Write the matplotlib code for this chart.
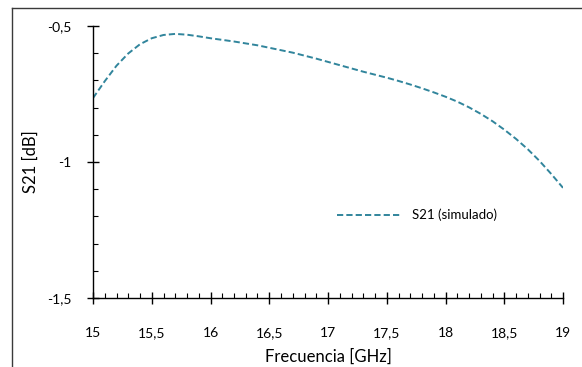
import matplotlib
matplotlib.use("Agg")
import matplotlib.pyplot as plt
from matplotlib.lines import Line2D
from matplotlib.ticker import MultipleLocator, FuncFormatter

# Simulated transmission coefficient S21 versus frequency
freq_ghz = [15.0, 15.1, 15.2, 15.3, 15.4, 15.5, 15.6, 15.7, 15.8, 15.9,
            16.0, 16.1, 16.2, 16.3, 16.4, 16.5, 16.6, 16.7, 16.8, 16.9,
            17.0, 17.1, 17.2, 17.3, 17.4, 17.5, 17.6, 17.7, 17.8, 17.9,
            18.0, 18.1, 18.2, 18.3, 18.4, 18.5, 18.6, 18.7, 18.8, 18.9,
            19.0]
s21_sim_db = [-0.765, -0.703, -0.646, -0.601, -0.567, -0.545, -0.533, -0.529, -0.532, -0.538,
              -0.545, -0.551, -0.557, -0.564, -0.571, -0.580, -0.589, -0.598, -0.609, -0.620,
              -0.632, -0.644, -0.656, -0.668, -0.679, -0.690, -0.702, -0.715, -0.729, -0.744,
              -0.760, -0.778, -0.799, -0.823, -0.850, -0.881, -0.915, -0.953, -0.996, -1.044,
              -1.095]

x_ticks = [15, 15.5, 16, 16.5, 17, 17.5, 18, 18.5, 19]
y_ticks = [-1.5, -1.0, -0.5]

FONT = "Lato"
plt.rcParams["font.family"] = [FONT, "DejaVu Sans"]

W, H = 582, 367
fig = plt.figure(figsize=(W / 100, H / 100), dpi=100)

# Axes placement (pixels)
ax_l, ax_r, ax_t, ax_b = 93, 563, 26, 298
ax = fig.add_axes([ax_l / W, 1 - ax_b / H, (ax_r - ax_l) / W, (ax_b - ax_t) / H])

ax.plot(freq_ghz, s21_sim_db, color="#31859C", lw=1.4,
        linestyle=(0, (3.2, 1.6)), label="S21 (simulado)")

ax.set_xlim(15, 19)
ax.set_ylim(-1.5, -0.5)

def comma(v, pos):
    return ("%g" % v).replace(".", ",")

ax.set_xticks(x_ticks)
ax.set_yticks(y_ticks)
ax.xaxis.set_major_formatter(FuncFormatter(comma))
ax.yaxis.set_major_formatter(FuncFormatter(comma))
ax.xaxis.set_minor_locator(MultipleLocator(0.1))
ax.yaxis.set_minor_locator(MultipleLocator(0.1))

for side in ("top", "right"):
    ax.spines[side].set_visible(False)
for side in ("left", "bottom"):
    ax.spines[side].set_linewidth(1.0)
    ax.spines[side].set_color("black")

ax.tick_params(which="major", direction="inout", length=9, width=1.0,
               labelsize=10, colors="black")
ax.tick_params(axis="x", which="major", pad=16.5)
ax.tick_params(axis="y", which="major", pad=11)
ax.tick_params(which="minor", direction="in", length=3.5, width=0.8, colors="black")

ax.set_xlabel("Frecuencia [GHz]", fontsize=12, labelpad=7)
ax.set_ylabel("S21 [dB]", fontsize=12, labelpad=6)

ax.legend(loc="center left",
          bbox_to_anchor=((337 - ax_l) / (ax_r - ax_l), 1 - (215 - ax_t) / (ax_b - ax_t)),
          frameon=False, fontsize=9.5, handlelength=4.9, handletextpad=0.76,
          borderaxespad=0, borderpad=0)

# Outer chart frame (left and top edges)
fig.add_artist(Line2D([12 / W, 12 / W], [0, 1 - 8 / H], transform=fig.transFigure,
                      color="#3a3a3a", lw=1.0))
fig.add_artist(Line2D([12 / W, 1], [1 - 8 / H, 1 - 8 / H], transform=fig.transFigure,
                      color="#3a3a3a", lw=1.0))

fig.savefig("out.png", dpi=100)
